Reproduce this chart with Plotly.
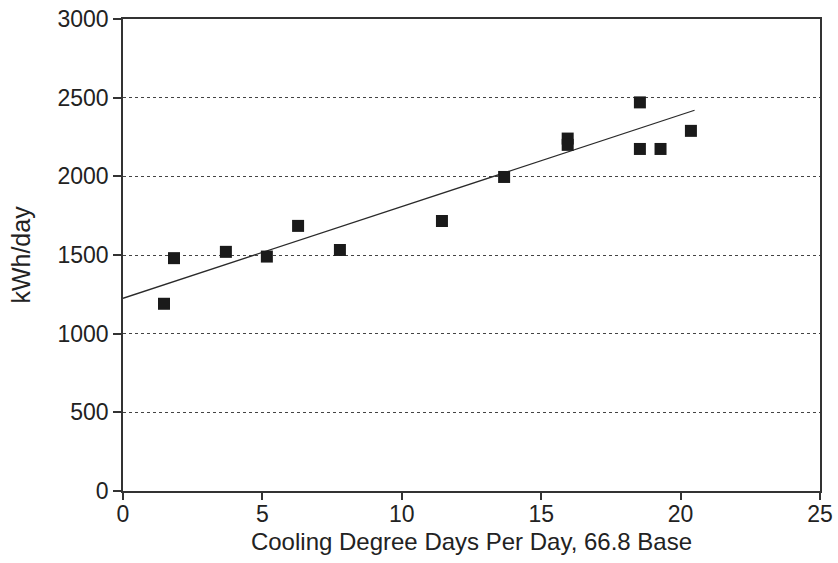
import plotly.graph_objects as go

# Data
cdd = [1.47, 1.83, 3.69, 5.16, 6.28, 7.78, 11.44, 13.67, 15.95, 15.95, 18.54, 18.54, 19.28, 20.37]
kwh = [1190, 1480, 1520, 1490, 1685, 1532, 1716, 1996, 2240, 2200, 2470, 2174, 2174, 2289]

fit_x = [0, 20.5]
fit_y = [1225, 2420]

x_ticks = [0, 5, 10, 15, 20, 25]
y_ticks = [0, 500, 1000, 1500, 2000, 2500, 3000]

FONT = "Liberation Sans, Arial, sans-serif"

fig = go.Figure()
fig.add_trace(go.Scatter(
    x=fit_x, y=fit_y, mode="lines",
    line=dict(color="#2a2a2a", width=1.3),
    showlegend=False, hoverinfo="skip",
))
fig.add_trace(go.Scatter(
    x=cdd, y=kwh, mode="markers",
    marker=dict(symbol="square", size=12, color="#1a1a1a", line=dict(width=0)),
    showlegend=False,
))

fig.update_layout(
    width=838, height=563,
    margin=dict(l=123, r=18, t=19, b=72),
    paper_bgcolor="white", plot_bgcolor="white",
    font=dict(family=FONT, size=23, color="#222"),
    xaxis=dict(
        range=[0, 25], tickvals=x_ticks, ticktext=[str(v) for v in x_ticks],
        showgrid=False, zeroline=False, automargin=False,
        ticklabeloverflow="allow",
        showline=True, linecolor="#333", linewidth=1.5, mirror=True,
        ticks="outside", ticklen=7, tickcolor="#333", tickwidth=1.5,
        ticklabelstandoff=-5,
        tickfont=dict(size=23),
        title=dict(text="Cooling Degree Days Per Day, 66.8 Base", font=dict(size=24), standoff=7),
    ),
    yaxis=dict(
        range=[0, 3000], tickvals=y_ticks, ticktext=[str(v) for v in y_ticks],
        showgrid=True, gridcolor="#444", griddash="dot", gridwidth=1.2,
        zeroline=False, automargin=False,
        ticklabeloverflow="allow",
        showline=True, linecolor="#333", linewidth=1.5, mirror=True,
        ticks="outside", ticklen=8, tickcolor="#333", tickwidth=1.5,
        tickfont=dict(size=23),
        title=dict(text="kWh/day", font=dict(size=25), standoff=20),
    ),
)

fig.write_html("out.html", config={"displayModeBar": False},
               post_script="document.body.style.margin='0';")
